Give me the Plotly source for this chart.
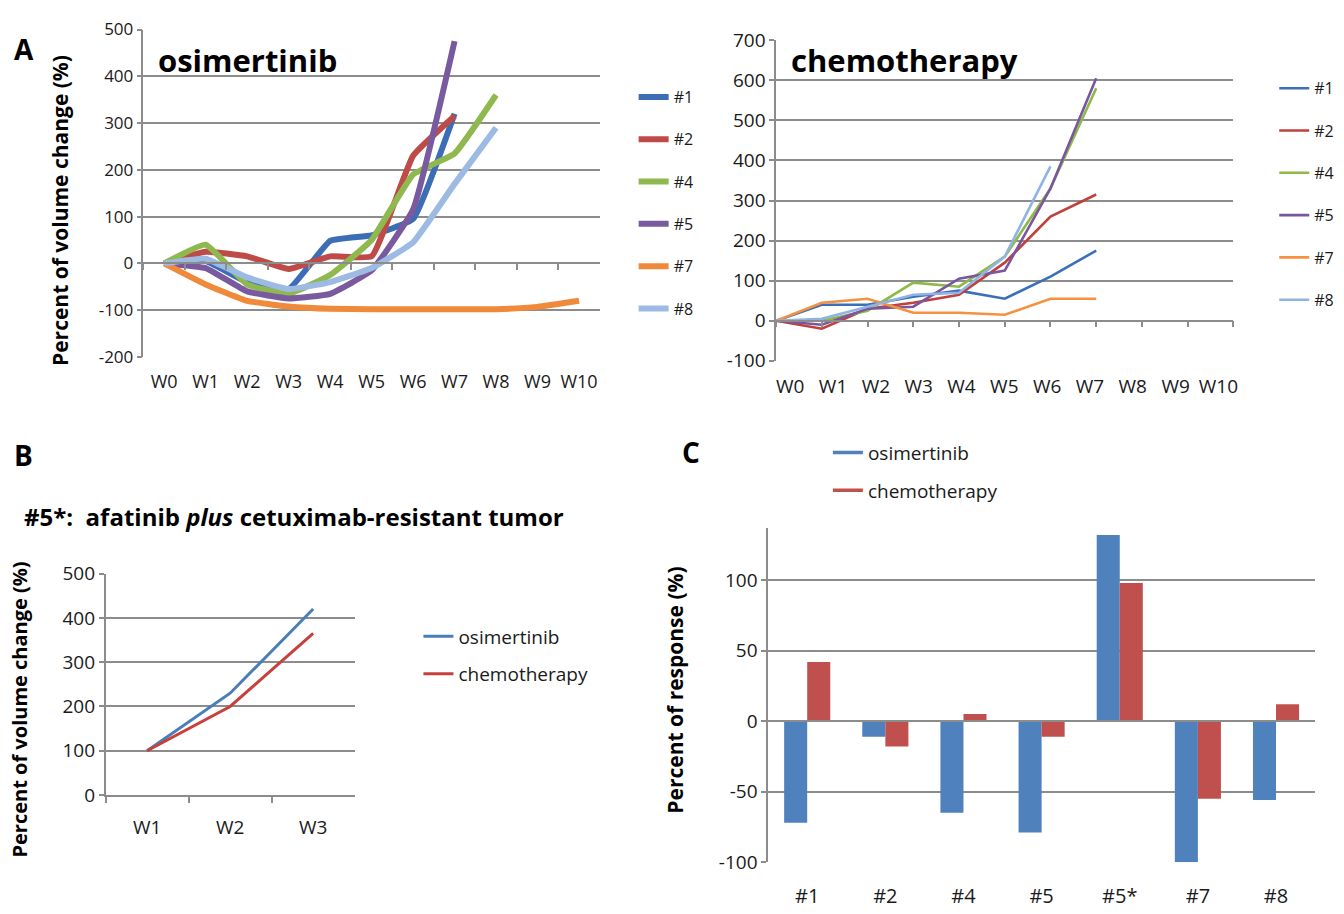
import plotly.graph_objects as go

W, H = 1344, 914
def PX(x): return x / W
def PY(y): return 1 - y / H

FONT = "Open Sans"
GRID = "#8c8c8c"
TXT = "#1a1a1a"

# ---------------- data ----------------
weeks = ["W0", "W1", "W2", "W3", "W4", "W5", "W6", "W7", "W8", "W9", "W10"]
tumor_ids = ["#1", "#2", "#4", "#5", "#7", "#8"]

osi_1 = [0, 5, -40, -55, 48, 60, 95, 320]
osi_2 = [0, 25, 15, -12, 15, 15, 230, 315]
osi_4 = [0, 40, -45, -65, -25, 50, 190, 235, 360]
osi_5 = [0, -10, -60, -75, -65, -15, 115, 475]
osi_7 = [0, -45, -80, -92, -97, -98, -98, -98, -98, -93, -80]
osi_8 = [0, 10, -30, -55, -40, -10, 45, 170, 290]

chemo_1 = [0, 40, 40, 60, 75, 55, 110, 175]
chemo_2 = [0, -20, 30, 45, 65, 145, 260, 315]
chemo_4 = [0, 0, 25, 95, 85, 160, 330, 580]
chemo_5 = [0, -10, 30, 35, 105, 125, 330, 605]
chemo_7 = [0, 45, 55, 20, 20, 15, 55, 55]
chemo_8 = [0, 5, 35, 65, 70, 160, 385]

b_weeks = ["W1", "W2", "W3"]
b_osi = [100, 230, 420]
b_chemo = [100, 200, 365]

c_cats = ["#1", "#2", "#4", "#5", "#5*", "#7", "#8"]
c_osi = [-72, -11, -65, -79, 132, -100, -56]
c_chemo = [42, -18, 5, -11, 98, -55, 12]

osi_series = [osi_1, osi_2, osi_4, osi_5, osi_7, osi_8]
chemo_series = [chemo_1, chemo_2, chemo_4, chemo_5, chemo_7, chemo_8]
osi_colors = ["#3d6db5", "#be4b48", "#8fb84f", "#7a5a9e", "#f08a3a", "#9dbbe2"]
chemo_colors = ["#3a70ba", "#c0403c", "#8dba47", "#7a55a0", "#f5913f", "#8fb4e4"]

fig = go.Figure()

# ---------------- A: osimertinib ----------------
for name, vals, col in zip(tumor_ids, osi_series, osi_colors):
    fig.add_trace(go.Scatter(
        x=weeks[:len(vals)], y=vals, mode="lines", name=name,
        line=dict(color=col, width=6, shape="spline", smoothing=0.35),
        xaxis="x", yaxis="y", legend="legend", legendgroup="o" + name))
fig.add_trace(go.Scatter(x=weeks, y=[None] * len(weeks), mode="lines",
                         xaxis="x5", yaxis="y", showlegend=False, hoverinfo="skip"))

# ---------------- A: chemotherapy ----------------
for name, vals, col in zip(tumor_ids, chemo_series, chemo_colors):
    fig.add_trace(go.Scatter(
        x=weeks[:len(vals)], y=vals, mode="lines", name=name,
        line=dict(color=col, width=2.6),
        xaxis="x2", yaxis="y2", legend="legend2", legendgroup="c" + name))
fig.add_trace(go.Scatter(x=weeks, y=[None] * len(weeks), mode="lines",
                         xaxis="x6", yaxis="y2", showlegend=False, hoverinfo="skip"))
fig.add_trace(go.Scatter(x=weeks, y=[None] * len(weeks), mode="lines",
                         xaxis="x8", yaxis="y2", showlegend=False, hoverinfo="skip"))

# ---------------- B ----------------
fig.add_trace(go.Scatter(x=b_weeks, y=b_osi, mode="lines", name="osimertinib",
                         line=dict(color="#4a7ebb", width=3), xaxis="x3", yaxis="y3",
                         legend="legend3", legendgroup="b1"))
fig.add_trace(go.Scatter(x=b_weeks, y=b_chemo, mode="lines", name="chemotherapy",
                         line=dict(color="#c8403c", width=3), xaxis="x3", yaxis="y3",
                         legend="legend3", legendgroup="b2"))

# ---------------- C ----------------
C_BLUE, C_RED = "#4f81bd", "#c0504d"
fig.add_trace(go.Bar(x=c_cats, y=c_osi, name="osimertinib", marker_color=C_BLUE,
                     marker_line_width=0, xaxis="x4", yaxis="y4", showlegend=False))
fig.add_trace(go.Bar(x=c_cats, y=c_chemo, name="chemotherapy", marker_color=C_RED,
                     marker_line_width=0, xaxis="x4", yaxis="y4", showlegend=False))
fig.add_trace(go.Scatter(x=c_cats, y=[None] * len(c_cats), mode="lines",
                         xaxis="x7", yaxis="y4", showlegend=False, hoverinfo="skip"))
# legend entries drawn as lines (as in the original)
fig.add_trace(go.Scatter(x=[None], y=[None], mode="lines", name="osimertinib",
                         line=dict(color=C_BLUE, width=3.5), xaxis="x4", yaxis="y4",
                         legend="legend4", legendgroup="cl1"))
fig.add_trace(go.Scatter(x=[None], y=[None], mode="lines", name="chemotherapy",
                         line=dict(color=C_RED, width=3.5), xaxis="x4", yaxis="y4",
                         legend="legend4", legendgroup="cl2"))

def zero_pos(dom, rng):
    return dom[0] + (0 - rng[0]) / (rng[1] - rng[0]) * (dom[1] - dom[0])

def ticks(lo, hi, step):
    v = list(range(lo, hi + 1, step))
    return v, [str(t) for t in v]

# domains
dA1x = [PX(144), PX(602)]; dA1y = [PY(354), PY(17)]; rA1 = [-200, 500]
dA2x = [PX(779), PX(1238)]; dA2y = [PY(358), PY(28)]; rA2 = [-100, 700]
dBx = [PX(106), PX(356)]; dBy = [PY(805), PY(577)]; rB = [0, 500]
dCx = [PX(771), PX(1320)]; dCy = [PY(874), PY(530)]; rC = [-100, 137]

def yax(size):
    return dict(showline=True, linecolor=GRID, linewidth=1.5, showgrid=True,
                gridcolor=GRID, gridwidth=1.5, zeroline=False, ticks="outside",
                ticklen=5, tickcolor=GRID, tickwidth=1.5, tickmode="array",
                tickfont=dict(family=FONT, size=size, color=TXT))

tvA1, ttA1 = ticks(-200, 500, 100)
tvA2, ttA2 = ticks(-100, 700, 100)
tvB, ttB = ticks(0, 500, 100)
tvC, ttC = ticks(-100, 100, 50)

def xfont(size):
    return dict(family=FONT, size=size, color=TXT)

overlay_line = dict(anchor="free", showline=True, linecolor=GRID, linewidth=1.5,
                    showticklabels=False, showgrid=False)

fig.update_layout(
    width=W, height=H, margin=dict(l=0, r=0, t=0, b=0),
    paper_bgcolor="white", plot_bgcolor="white",
    barmode="group", bargap=0.41, bargroupgap=0,
    xaxis=dict(domain=dA1x, anchor="y", type="category", categoryorder="array",
               categoryarray=weeks, range=[-0.5, 10.5], showline=False, showgrid=False,
               ticks="", tickfont=xfont(18), ticklabelstandoff=12),
    xaxis5=dict(overlaying="x", position=zero_pos(dA1y, rA1),
                type="category", categoryorder="array", categoryarray=weeks,
                range=[-0.5, 10.5], tickson="boundaries", ticks="outside", ticklen=6,
                tickcolor=GRID, tickwidth=1.5, **overlay_line),
    yaxis=dict(domain=dA1y, anchor="x", range=rA1, tickvals=tvA1, ticktext=ttA1, **yax(17)),
    xaxis2=dict(domain=dA2x, anchor="y2", type="category", categoryorder="array",
                categoryarray=weeks, range=[0, 10], showline=False, showgrid=False,
                ticks="", showticklabels=False),
    xaxis6=dict(overlaying="x2", position=zero_pos(dA2y, rA2),
                type="category", categoryorder="array", categoryarray=weeks,
                range=[0, 10], ticks="outside", ticklen=6, tickcolor=GRID, tickwidth=1.5,
                **overlay_line),
    # label axis: Excel squeezed the week labels slightly inside the plot width
    xaxis8=dict(overlaying="x2", anchor="y2", type="category", categoryorder="array",
                categoryarray=weeks, range=[-0.33, 10.35], showline=False, showgrid=False,
                ticks="", tickfont=xfont(19), ticklabelstandoff=12),
    yaxis2=dict(domain=dA2y, anchor="x2", range=rA2, tickvals=tvA2, ticktext=ttA2, **yax(19)),
    xaxis3=dict(domain=dBx, anchor="y3", type="category", range=[-0.5, 2.5],
                tickson="boundaries", showline=True, linecolor=GRID, linewidth=1.5,
                ticks="outside", ticklen=6, tickcolor=GRID, tickwidth=1.5,
                showgrid=False, tickfont=xfont(19), ticklabelstandoff=14),
    yaxis3=dict(domain=dBy, anchor="x3", range=rB, tickvals=tvB, ticktext=ttB, **yax(19)),
    xaxis4=dict(domain=dCx, anchor="y4", type="category", categoryorder="array",
                categoryarray=c_cats, showline=False, ticks="", showgrid=False,
                tickfont=xfont(20), ticklabelstandoff=20),
    xaxis7=dict(overlaying="x4", position=zero_pos(dCy, rC), type="category",
                categoryorder="array", categoryarray=c_cats, ticks="", **overlay_line),
    yaxis4=dict(domain=dCy, anchor="x4", range=rC, tickvals=tvC, ticktext=ttC, **yax(19)),
)

leg_common = dict(bgcolor="rgba(0,0,0,0)", borderwidth=0, xanchor="left", yanchor="top",
                  traceorder="grouped")
fig.update_layout(
    legend=dict(x=PX(636), y=PY(69), tracegroupgap=18.5,
                font=dict(family=FONT, size=16, color=TXT), **leg_common),
    legend2=dict(x=PX(1279), y=PY(60), tracegroupgap=18.5,
                 font=dict(family=FONT, size=16, color=TXT), **leg_common),
    legend3=dict(x=PX(420), y=PY(622), tracegroupgap=10,
                 font=dict(family=FONT, size=19, color=TXT), **leg_common),
    legend4=dict(x=PX(831), y=PY(433), tracegroupgap=10,
                 font=dict(family=FONT, size=19, color=TXT), **leg_common),
)

ann = [
    dict(text="<b>A</b>", x=PX(24), y=PY(37), size=28),
    dict(text="<b>B</b>", x=PX(24), y=PY(455), size=28),
    dict(text="<b>C</b>", x=PX(694), y=PY(452), size=28),
    dict(text="<b>osimertinib</b>", x=PX(157), y=PY(48), size=31, xanchor="left"),
    dict(text="<b>chemotherapy</b>", x=PX(792), y=PY(48), size=31, xanchor="left"),
    dict(text="<b>#5*:\u00a0\u00a0afatinib <i>plus</i> cetuximab-resistant tumor</b>",
         x=PX(22), y=PY(518), size=24, xanchor="left"),
    dict(text="<b>Percent of volume change (%)</b>", x=PX(60), y=PY(203), size=21, angle=-90),
    dict(text="<b>Percent of volume change (%)</b>", x=PX(20), y=PY(717), size=20, angle=-90),
    dict(text="<b>Percent of response (%)</b>", x=PX(678), y=PY(697), size=21, angle=-90),
]
for a in ann:
    fig.add_annotation(xref="paper", yref="paper", x=a["x"], y=a["y"], text=a["text"],
                       showarrow=False, xanchor=a.get("xanchor", "center"), yanchor="middle",
                       textangle=a.get("angle", 0),
                       font=dict(family=FONT, size=a["size"], color="#000"))

fig.write_html("out.html")
